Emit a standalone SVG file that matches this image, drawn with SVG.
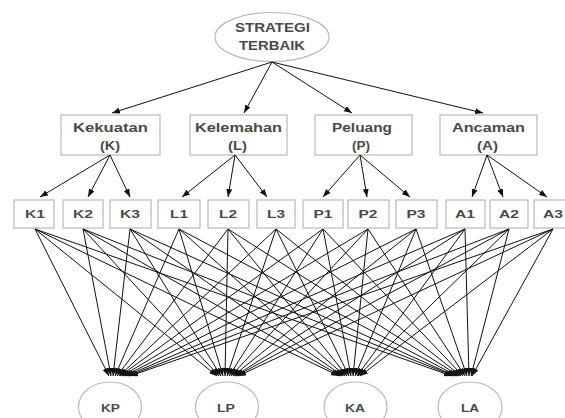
<svg xmlns="http://www.w3.org/2000/svg" width="565" height="418" viewBox="0 0 565 418">
<style>
.box{fill:#ffffff;stroke:#b8b8b8;stroke-width:1.2}
.t{font-family:"Liberation Sans",Arial,sans-serif;fill:#4a4a4a;font-weight:bold;text-anchor:middle}
.t13{font-size:12.5px}
.t12{font-size:11.5px}
.c line{stroke:#111;stroke-width:1;marker-end:url(#ah)}
</style>
<defs>
<marker id="ah" markerUnits="userSpaceOnUse" markerWidth="8" markerHeight="6" refX="8" refY="3" orient="auto">
<path d="M0,0 L8,3 L0,6 z" fill="#111"/>
</marker>
</defs>
<rect width="565" height="418" fill="#ffffff"/>

<g id="goal">
<ellipse class="box" cx="272" cy="37" rx="57" ry="24.5"/>
<text class="t t13" x="272.5" y="32" textLength="75" lengthAdjust="spacingAndGlyphs">STRATEGI</text>
<text class="t t13" x="272" y="50" textLength="66" lengthAdjust="spacingAndGlyphs">TERBAIK</text>
</g>

<g id="K">
<rect class="box" x="61" y="115" width="99" height="40"/>
<text class="t t13" x="110.5" y="132" textLength="75" lengthAdjust="spacingAndGlyphs">Kekuatan</text>
<text class="t t13" x="110" y="150" textLength="20" lengthAdjust="spacingAndGlyphs">(K)</text>
</g>
<g id="L">
<rect class="box" x="190" y="115" width="97" height="40"/>
<text class="t t13" x="238.5" y="132" textLength="87" lengthAdjust="spacingAndGlyphs">Kelemahan</text>
<text class="t t13" x="237.5" y="150" textLength="19" lengthAdjust="spacingAndGlyphs">(L)</text>
</g>
<g id="P">
<rect class="box" x="315" y="115" width="97" height="40"/>
<text class="t t13" x="362" y="132" textLength="60" lengthAdjust="spacingAndGlyphs">Peluang</text>
<text class="t t13" x="361" y="150" textLength="18" lengthAdjust="spacingAndGlyphs">(P)</text>
</g>
<g id="A">
<rect class="box" x="440" y="115" width="97" height="40"/>
<text class="t t13" x="488.5" y="132" textLength="73" lengthAdjust="spacingAndGlyphs">Ancaman</text>
<text class="t t13" x="487.5" y="150" textLength="21" lengthAdjust="spacingAndGlyphs">(A)</text>
</g>

<g id="K1"><rect class="box" x="14" y="200" width="40" height="28"/><text class="t t12" x="35" y="218" textLength="20" lengthAdjust="spacingAndGlyphs">K1</text></g>
<g id="K2"><rect class="box" x="63" y="200" width="40" height="28"/><text class="t t12" x="83" y="218" textLength="20" lengthAdjust="spacingAndGlyphs">K2</text></g>
<g id="K3"><rect class="box" x="110" y="200" width="41" height="28"/><text class="t t12" x="130" y="218" textLength="20" lengthAdjust="spacingAndGlyphs">K3</text></g>
<g id="L1"><rect class="box" x="158" y="200" width="42" height="28"/><text class="t t12" x="179" y="218" textLength="18" lengthAdjust="spacingAndGlyphs">L1</text></g>
<g id="L2"><rect class="box" x="208" y="200" width="41" height="28"/><text class="t t12" x="228" y="218" textLength="18" lengthAdjust="spacingAndGlyphs">L2</text></g>
<g id="L3"><rect class="box" x="257" y="200" width="38" height="28"/><text class="t t12" x="276" y="218" textLength="18" lengthAdjust="spacingAndGlyphs">L3</text></g>
<g id="P1"><rect class="box" x="303" y="200" width="40" height="28"/><text class="t t12" x="323" y="218" textLength="19" lengthAdjust="spacingAndGlyphs">P1</text></g>
<g id="P2"><rect class="box" x="348" y="200" width="41" height="28"/><text class="t t12" x="368" y="218" textLength="19" lengthAdjust="spacingAndGlyphs">P2</text></g>
<g id="P3"><rect class="box" x="396" y="200" width="41" height="28"/><text class="t t12" x="416" y="218" textLength="19" lengthAdjust="spacingAndGlyphs">P3</text></g>
<g id="A1"><rect class="box" x="446" y="200" width="39" height="28"/><text class="t t12" x="465" y="218" textLength="20" lengthAdjust="spacingAndGlyphs">A1</text></g>
<g id="A2"><rect class="box" x="490" y="200" width="38" height="28"/><text class="t t12" x="509" y="218" textLength="20" lengthAdjust="spacingAndGlyphs">A2</text></g>
<g id="A3"><rect class="box" x="534" y="200" width="41" height="28"/><text class="t t12" x="553" y="218" textLength="20" lengthAdjust="spacingAndGlyphs">A3</text></g>

<g id="KP"><ellipse class="box" cx="110" cy="407" rx="31.5" ry="25"/><text class="t t12" x="110.5" y="412" textLength="19" lengthAdjust="spacingAndGlyphs">KP</text></g>
<g id="LP"><ellipse class="box" cx="227" cy="407" rx="31.5" ry="25"/><text class="t t12" x="226" y="412" textLength="18" lengthAdjust="spacingAndGlyphs">LP</text></g>
<g id="KA"><ellipse class="box" cx="355.5" cy="407" rx="31.5" ry="25"/><text class="t t12" x="355" y="412" textLength="20" lengthAdjust="spacingAndGlyphs">KA</text></g>
<g id="LA"><ellipse class="box" cx="470" cy="407" rx="32" ry="25"/><text class="t t12" x="470" y="412" textLength="18" lengthAdjust="spacingAndGlyphs">LA</text></g>

<g id="connectors" class="c">
<line x1="272" y1="62" x2="112" y2="113"/>
<line x1="272" y1="62" x2="244" y2="113"/>
<line x1="272" y1="62" x2="352" y2="113"/>
<line x1="272" y1="62" x2="483" y2="113"/>

<line x1="110" y1="155" x2="40" y2="197"/>
<line x1="110" y1="155" x2="88" y2="197"/>
<line x1="110" y1="155" x2="130" y2="197"/>
<line x1="235" y1="155" x2="182" y2="197"/>
<line x1="235" y1="155" x2="228" y2="197"/>
<line x1="235" y1="155" x2="267" y2="197"/>
<line x1="360" y1="155" x2="323" y2="197"/>
<line x1="360" y1="155" x2="367" y2="197"/>
<line x1="360" y1="155" x2="410" y2="197"/>
<line x1="487" y1="155" x2="472" y2="197"/>
<line x1="487" y1="155" x2="503" y2="197"/>
<line x1="487" y1="155" x2="547" y2="197"/>

<line x1="35" y1="229" x2="109" y2="376"/>
<line x1="83" y1="229" x2="111" y2="376"/>
<line x1="130" y1="229" x2="113" y2="376"/>
<line x1="179" y1="229" x2="115" y2="376"/>
<line x1="228" y1="229" x2="117" y2="376"/>
<line x1="276" y1="229" x2="119" y2="376"/>
<line x1="323" y1="229" x2="120" y2="376"/>
<line x1="368" y1="229" x2="122" y2="376"/>
<line x1="416" y1="229" x2="124" y2="376"/>
<line x1="465" y1="229" x2="126" y2="376"/>
<line x1="509" y1="229" x2="128" y2="376"/>
<line x1="553" y1="229" x2="130" y2="376"/>

<line x1="35" y1="229" x2="217" y2="376"/>
<line x1="83" y1="229" x2="219" y2="376"/>
<line x1="130" y1="229" x2="221" y2="376"/>
<line x1="179" y1="229" x2="223" y2="376"/>
<line x1="228" y1="229" x2="225" y2="376"/>
<line x1="276" y1="229" x2="227" y2="376"/>
<line x1="323" y1="229" x2="229" y2="376"/>
<line x1="368" y1="229" x2="231" y2="376"/>
<line x1="416" y1="229" x2="233" y2="376"/>
<line x1="465" y1="229" x2="235" y2="376"/>
<line x1="509" y1="229" x2="236" y2="376"/>
<line x1="553" y1="229" x2="238" y2="376"/>

<line x1="35" y1="229" x2="339" y2="376"/>
<line x1="83" y1="229" x2="341" y2="376"/>
<line x1="130" y1="229" x2="343" y2="376"/>
<line x1="179" y1="229" x2="345" y2="376"/>
<line x1="228" y1="229" x2="347" y2="376"/>
<line x1="276" y1="229" x2="349" y2="376"/>
<line x1="323" y1="229" x2="351" y2="376"/>
<line x1="368" y1="229" x2="353" y2="376"/>
<line x1="416" y1="229" x2="355" y2="376"/>
<line x1="465" y1="229" x2="357" y2="376"/>
<line x1="509" y1="229" x2="358" y2="376"/>
<line x1="553" y1="229" x2="360" y2="376"/>

<line x1="35" y1="229" x2="452" y2="376"/>
<line x1="83" y1="229" x2="454" y2="376"/>
<line x1="130" y1="229" x2="455" y2="376"/>
<line x1="179" y1="229" x2="457" y2="376"/>
<line x1="228" y1="229" x2="459" y2="376"/>
<line x1="276" y1="229" x2="461" y2="376"/>
<line x1="323" y1="229" x2="463" y2="376"/>
<line x1="368" y1="229" x2="465" y2="376"/>
<line x1="416" y1="229" x2="467" y2="376"/>
<line x1="465" y1="229" x2="469" y2="376"/>
<line x1="509" y1="229" x2="471" y2="376"/>
<line x1="553" y1="229" x2="472" y2="376"/>
</g>
</svg>
